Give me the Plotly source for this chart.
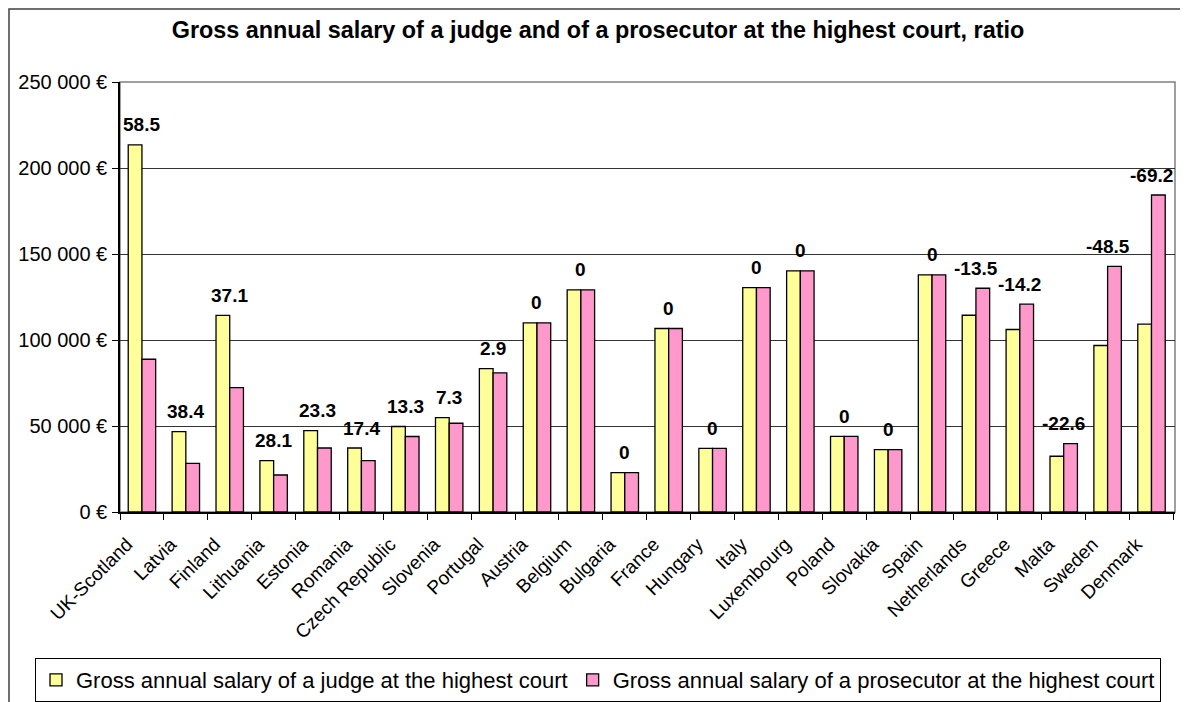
import plotly.graph_objects as go

# Datos
countries = ["UK-Scotland", "Latvia", "Finland", "Lithuania", "Estonia", "Romania",
             "Czech Republic", "Slovenia", "Portugal", "Austria", "Belgium", "Bulgaria",
             "France", "Hungary", "Italy", "Luxembourg", "Poland", "Slovakia", "Spain",
             "Netherlands", "Greece", "Malta", "Sweden", "Denmark"]
judge = [213400, 46700, 114300, 29900, 47300, 37200, 49700, 54900, 83400, 110000,
         129200, 22900, 106700, 37000, 130500, 140200, 44000, 36300, 137900,
         114400, 106100, 32400, 96800, 109200]
prosecutor = [88800, 28300, 72300, 21500, 37200, 29900, 43900, 51600, 80900, 110000,
              129200, 22900, 106700, 37000, 130500, 140200, 44000, 36300, 137900,
              130100, 120800, 39700, 142800, 184300]
ratio = ["58.5", "38.4", "37.1", "28.1", "23.3", "17.4", "13.3", "7.3", "2.9", "0",
         "0", "0", "0", "0", "0", "0", "0", "0", "0", "-13.5", "-14.2", "-22.6",
         "-48.5", "-69.2"]
y_ticks = [0, 50000, 100000, 150000, 200000, 250000]
y_tick_text = ["0 €", "50 000 €", "100 000 €", "150 000 €", "200 000 €", "250 000 €"]

FONT = "Liberation Sans, Arial, sans-serif"

# La página tiene 8 px de margen en el body: la figura se reduce para caber
W, H = 1180, 694
L, T, R, B = 112, 74, 13, 190
PW, PH = W - L - R, H - T - B

fig = go.Figure()
fig.add_trace(go.Bar(
    x=countries, y=judge,
    name="Gross annual salary of a judge at the highest court",
    marker=dict(color="#FFFF99", line=dict(color="black", width=1.3)),
))
fig.add_trace(go.Bar(
    x=countries, y=prosecutor,
    name="Gross annual salary of a prosecutor at the highest court",
    marker=dict(color="#FF99CC", line=dict(color="black", width=1.3)),
))

# Etiquetas de ratio encima de cada par de barras
for c, j, p, r in zip(countries, judge, prosecutor, ratio):
    fig.add_annotation(
        x=c, y=max(j, p), text="<b>%s</b>" % r, showarrow=False,
        yanchor="middle", yshift=20,
        font=dict(family=FONT, size=19, color="black"),
    )

# Borde del área de trazado (gris) y marco exterior
fig.add_shape(type="rect", xref="paper", yref="paper", x0=0, x1=1, y0=0, y1=1,
              line=dict(color="#808080", width=1.5), layer="below")
fig.add_shape(type="rect", xref="paper", yref="paper",
              x0=(1 - L) / PW, x1=(1175 - L) / PW, y0=-0.6, y1=(T + PH - 1) / PH,
              line=dict(color="#404040", width=1.5))

fig.update_layout(
    width=W, height=H,
    margin=dict(l=L, r=R, t=T, b=B, autoexpand=False),
    paper_bgcolor="white", plot_bgcolor="white",
    barmode="group", bargap=0.375, bargroupgap=0,
    font=dict(family=FONT, color="black"),
    title=dict(
        text="<b>Gross annual salary of a judge and of a prosecutor at the highest court, ratio</b>",
        x=0.5, xref="container", xanchor="center",
        y=1 - 22 / H, yref="container", yanchor="middle",
        font=dict(family=FONT, size=23.4, color="black"),
    ),
    xaxis=dict(
        type="category", tickangle=-45, tickson="boundaries",
        ticks="outside", ticklen=6, tickcolor="black",
        ticklabelstandoff=12, ticklabelshift=-15,
        showline=True, linecolor="black", linewidth=1.5,
        showgrid=False, tickfont=dict(size=19),
    ),
    yaxis=dict(
        range=[0, 250000], tickvals=y_ticks, ticktext=y_tick_text,
        ticks="outside", ticklen=6, tickcolor="black", ticklabelstandoff=1,
        showline=True, linecolor="black", linewidth=1.5,
        showgrid=True, gridcolor="#333333", gridwidth=1,
        zeroline=False, tickfont=dict(size=20),
    ),
    legend=dict(
        orientation="h", x=(27 - L) / PW, xanchor="left",
        y=-(650 - (T + PH)) / PH, yanchor="top",
        bgcolor="white", bordercolor="black", borderwidth=1,
        font=dict(family=FONT, size=22, color="black"),
        itemwidth=30,
    ),
    showlegend=True,
)

fig.write_html("out.html")
